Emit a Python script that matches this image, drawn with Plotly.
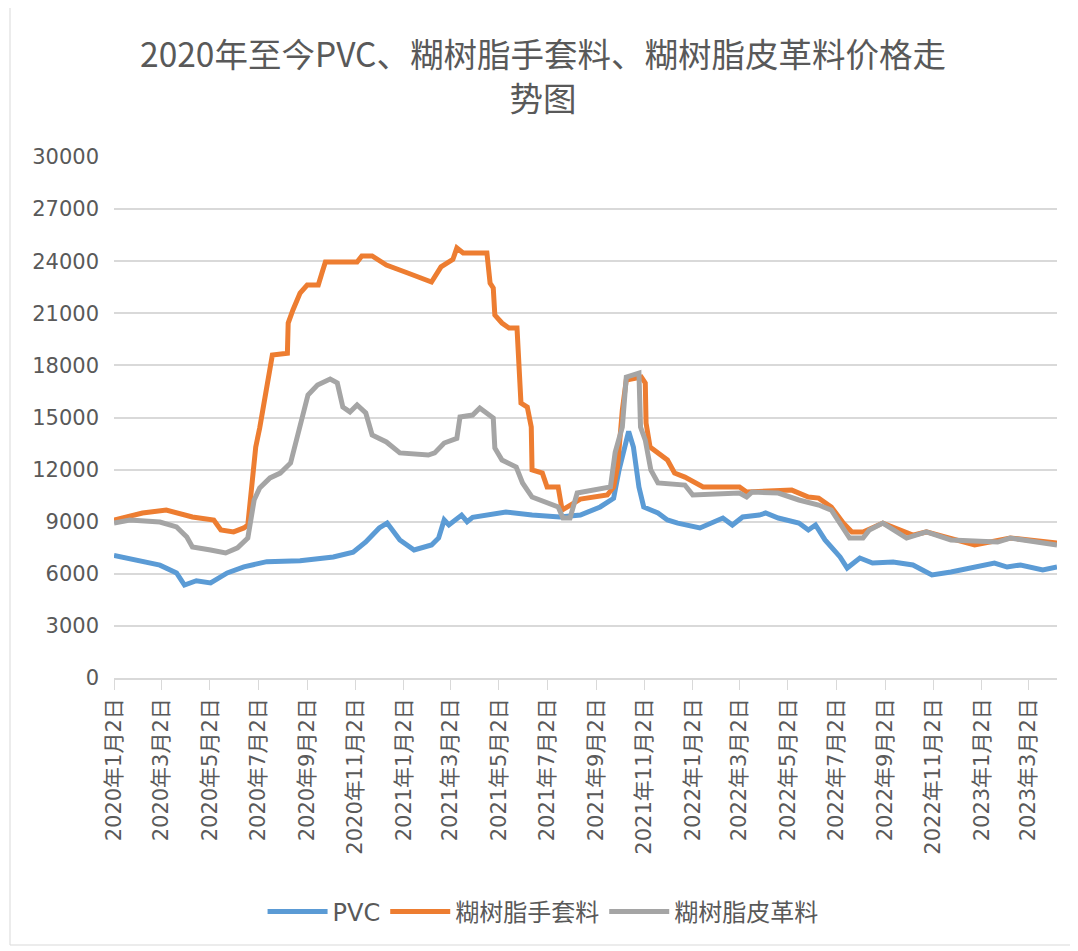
import plotly.graph_objects as go

# ---------------- data ----------------
pvc_dates = ["2020-01-02","2020-02-04","2020-02-29","2020-03-21","2020-03-31","2020-04-15","2020-05-03",
             "2020-05-24","2020-06-14","2020-07-13","2020-08-24","2020-10-05","2020-10-30","2020-11-15",
             "2020-12-02","2020-12-12","2020-12-28","2021-01-15","2021-02-06","2021-02-15","2021-02-22",
             "2021-02-28","2021-03-16","2021-03-23","2021-03-30","2021-05-11","2021-06-13","2021-07-18",
             "2021-08-13","2021-09-07","2021-09-24","2021-10-01","2021-10-10","2021-10-13","2021-10-19",
             "2021-10-26","2021-11-01","2021-11-19","2021-12-01","2021-12-14","2022-01-11","2022-01-27",
             "2022-02-09","2022-02-21","2022-03-06","2022-03-27","2022-04-04","2022-04-20","2022-05-16",
             "2022-05-28","2022-06-06","2022-06-18","2022-07-07","2022-07-16","2022-08-01","2022-08-17",
             "2022-09-12","2022-10-07","2022-10-31","2022-11-24","2022-12-19","2023-01-18","2023-02-03",
             "2023-02-20","2023-03-20","2023-04-07"]
pvc_values = [7050,6750,6500,6050,5350,5600,5470,
              6050,6400,6700,6750,6970,7250,7830,
              8640,8920,7950,7370,7660,8060,9100,
              8810,9380,9000,9250,9560,9380,9270,
              9380,9850,10350,12000,13700,14200,13300,
              11000,9850,9500,9100,8920,8640,8920,
              9210,8810,9270,9380,9500,9210,8920,
              8520,8810,7950,6970,6330,6910,6620,
              6680,6510,5930,6100,6330,6620,6390,
              6510,6220,6390]

glove_dates = ["2020-01-02","2020-02-07","2020-03-08","2020-03-21","2020-04-10","2020-05-07","2020-05-16",
               "2020-06-01","2020-06-14","2020-06-19","2020-06-23","2020-06-29","2020-07-04","2020-07-11",
               "2020-07-20","2020-08-08","2020-08-09","2020-08-15","2020-08-24","2020-09-02","2020-09-16",
               "2020-09-21","2020-09-25","2020-11-04","2020-11-10","2020-11-23","2020-12-11","2021-01-07",
               "2021-01-24","2021-02-06","2021-02-18","2021-03-05","2021-03-10","2021-03-18","2021-04-17",
               "2021-04-21","2021-04-25","2021-04-27","2021-05-06","2021-05-15","2021-05-25","2021-05-30",
               "2021-06-07","2021-06-12","2021-06-13","2021-06-26","2021-07-02","2021-07-16","2021-07-21",
               "2021-07-27","2021-08-04","2021-08-13","2021-09-16","2021-09-24","2021-09-29","2021-10-05",
               "2021-10-10","2021-10-29","2021-11-03","2021-11-04","2021-11-09","2021-11-19","2021-12-01",
               "2021-12-10","2021-12-23","2022-01-15","2022-03-02","2022-03-11","2022-05-07","2022-05-28",
               "2022-06-10","2022-06-26","2022-07-11","2022-07-22","2022-08-05","2022-08-30","2022-09-21",
               "2022-10-07","2022-10-24","2022-12-03","2022-12-24","2023-02-07","2023-04-07"]
glove_values = [9100,9500,9670,9500,9270,9100,8520,
                8410,8640,8810,10650,13300,14400,16400,
                18600,18700,20440,21190,22170,22630,22630,
                23380,23950,23950,24300,24300,23780,23320,
                23030,22800,23670,24100,24760,24470,24470,
                22740,22460,20900,20440,20150,20150,15830,
                15600,14450,11980,11800,11000,11000,9670,
                9850,10080,10300,10540,11000,12150,15430,
                17160,17330,16990,14680,13300,12960,12550,
                11800,11570,11000,11000,10710,10820,10420,
                10360,9850,8920,8410,8410,8920,8520,
                8230,8410,7950,7660,8060,7770]

leather_dates = ["2020-01-02","2020-01-22","2020-02-29","2020-03-21","2020-04-03","2020-04-10","2020-05-03",
                 "2020-05-22","2020-06-06","2020-06-19","2020-06-27","2020-07-04","2020-07-17","2020-07-30",
                 "2020-08-12","2020-08-20","2020-08-28","2020-09-03","2020-09-15","2020-10-01","2020-10-10",
                 "2020-10-17","2020-10-26","2020-11-04","2020-11-15","2020-11-23","2020-12-11","2020-12-28",
                 "2021-02-02","2021-02-10","2021-02-22","2021-03-10","2021-03-14","2021-03-30","2021-04-08",
                 "2021-04-25","2021-04-27","2021-05-06","2021-05-24","2021-06-01","2021-06-13","2021-07-02",
                 "2021-07-16","2021-07-22","2021-07-31","2021-08-09","2021-09-07","2021-09-20","2021-09-26",
                 "2021-10-05","2021-10-10","2021-10-26","2021-10-28","2021-11-03","2021-11-10","2021-11-19",
                 "2021-12-23","2022-01-02","2022-03-02","2022-03-11","2022-03-18","2022-04-20","2022-05-16",
                 "2022-06-10","2022-06-26","2022-07-11","2022-07-19","2022-08-05","2022-08-13","2022-08-30",
                 "2022-09-12","2022-09-29","2022-10-24","2022-11-24","2023-01-22","2023-02-07","2023-04-07"]
leather_values = [8920,9100,8980,8700,8120,7540,7370,
                  7200,7490,8060,10250,10940,11520,11800,
                  12380,13800,15320,16300,16870,17220,16990,
                  15600,15320,15720,15260,13990,13590,12960,
                  12840,12960,13530,13800,15030,15140,15550,
                  14970,13240,12550,12150,11230,10420,10080,
                  9850,9210,9210,10650,10940,11000,13000,
                  14450,17330,17560,14450,13700,11980,11230,
                  11110,10540,10650,10420,10710,10650,10250,
                  9960,9670,8700,8060,8060,8520,8920,
                  8520,8060,8410,7950,7830,8060,7660]

series_names = ["PVC", "糊树脂手套料", "糊树脂皮革料"]
series_colors = ["#5B9BD5", "#ED7D31", "#A5A5A5"]

tick_dates = ["2020-01-02","2020-03-02","2020-05-02","2020-07-02","2020-09-02","2020-11-02",
              "2021-01-02","2021-03-02","2021-05-02","2021-07-02","2021-09-02","2021-11-02",
              "2022-01-02","2022-03-02","2022-05-02","2022-07-02","2022-09-02","2022-11-02",
              "2023-01-02","2023-03-02"]
tick_labels = [f"{d[:4]}年{int(d[5:7])}月{int(d[8:10])}日" for d in tick_dates]

y_ticks = list(range(0, 30001, 3000))

title_text = "2020年至今PVC、糊树脂手套料、糊树脂皮革料价格走<br>势图"

# ---------------- figure ----------------
CJK = "Noto Sans CJK SC, sans-serif"
NUM = "DejaVu Sans, Noto Sans CJK SC, sans-serif"
TXT = "#595959"

fig = go.Figure()
for (xs, ys), name, color in zip(
        [(pvc_dates, pvc_values), (glove_dates, glove_values), (leather_dates, leather_values)],
        series_names, series_colors):
    fig.add_trace(go.Scatter(x=xs, y=ys, mode="lines", name=name,
                             line=dict(color=color, width=5)))

fig.update_layout(
    width=1070, height=943,
    paper_bgcolor="white", plot_bgcolor="white",
    margin=dict(l=106, r=21, t=149, b=273, autoexpand=False),
    font=dict(family=CJK, color=TXT, size=19),
    title=dict(text=title_text, x=0.5, xref="container", xanchor="center",
               y=0.937, yref="container", yanchor="top",
               font=dict(size=33.5, color=TXT, family=CJK)),
    showlegend=True,
    legend=dict(orientation="h", x=0.455, xanchor="center",
                y=-0.449, yanchor="middle",
                font=dict(size=24, color=TXT, family=NUM), itemwidth=60, traceorder="normal"),
    xaxis=dict(type="date", range=["2020-01-02", "2023-04-07"],
               tickmode="array", tickvals=tick_dates, ticktext=tick_labels,
               tickangle=-90, ticks="outside", ticklen=10, tickcolor="#D9D9D9",
               showline=True, linecolor="#D9D9D9", linewidth=1.5,
               showgrid=False, zeroline=False, automargin=False,
               tickfont=dict(size=21, color=TXT, family=NUM)),
    yaxis=dict(range=[0, 30000], tickmode="array", tickvals=y_ticks,
               ticktext=[str(v) for v in y_ticks],
               showgrid=True, gridcolor="#D9D9D9", gridwidth=1.5,
               zeroline=False, showline=False, ticks="", automargin=False,
               ticklabelstandoff=14,
               tickfont=dict(size=21, color=TXT, family=NUM)),
    shapes=[dict(type="rect", xref="paper", yref="paper",
                 x0=-104/943, x1=961/943, y0=-267/521, y1=1.32,
                 line=dict(color="#D9D9D9", width=1), fillcolor="rgba(0,0,0,0)", layer="below")],
)

fig.write_html("out.html")
